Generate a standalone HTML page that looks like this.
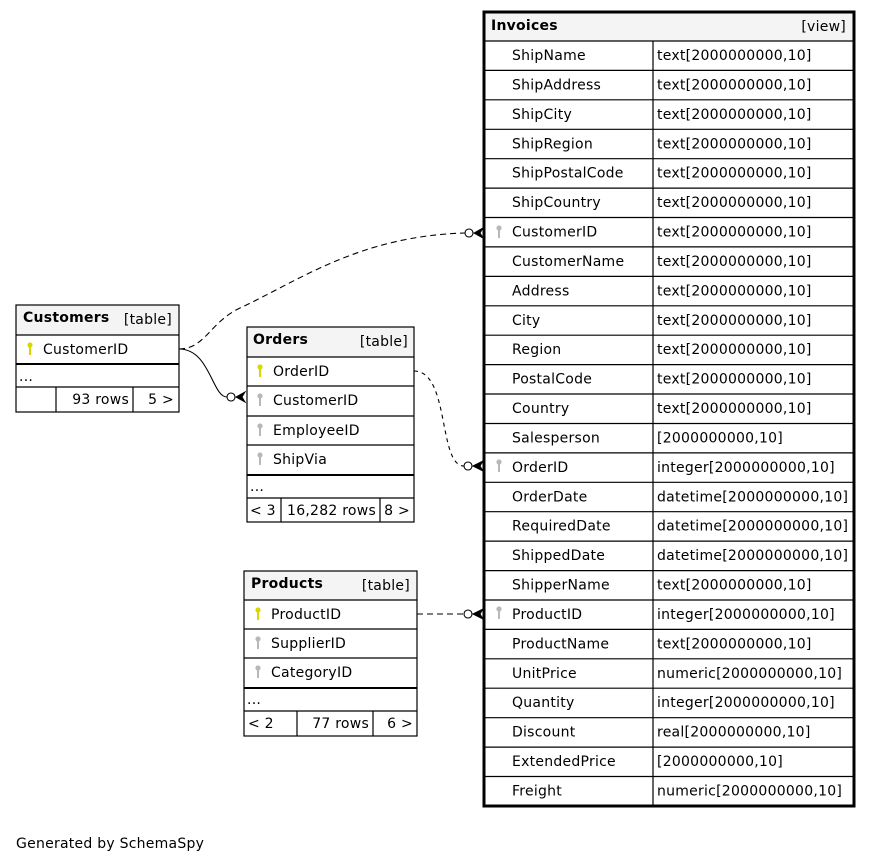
<!DOCTYPE html>
<html><head><meta charset="utf-8"><style>
html,body{margin:0;padding:0;background:#fff;}
svg{display:block;font-family:"DejaVu Sans","Liberation Sans",sans-serif;font-size:14px;letter-spacing:0.25px;}
</style></head><body>
<svg width="872" height="863" viewBox="0 0 872 863" xmlns="http://www.w3.org/2000/svg">
<defs>
<g id="pk"><circle cx="0" cy="0" r="2.6" fill="#d8d800"/><rect x="-1" y="0" width="2" height="10" fill="#d8d800"/></g>
<g id="fk"><circle cx="0" cy="0" r="2.6" fill="#b8b8b8"/><rect x="-1" y="0" width="2" height="10" fill="#b8b8b8"/></g>
</defs>
<rect width="872" height="863" fill="#fff"/>

<!-- connectors -->
<g fill="none" stroke="#000" stroke-width="1.1">
<path d="M179,349 C205,349 210,322 240,308 C300,280 360,236 465,233" stroke-dasharray="6,4"/>
<path d="M179,349 C210,349 212,397 227,397"/>
<path d="M414,371 C450,371 438,466 464,466" stroke-dasharray="4,4"/>
<path d="M417,614 L464,614" stroke-dasharray="6,4"/>
</g>
<g fill="#fff" stroke="#000" stroke-width="1.1">
<circle cx="469" cy="233" r="4"/><circle cx="231" cy="397" r="4"/><circle cx="468" cy="466" r="4"/><circle cx="468" cy="614" r="4"/>
</g>
<g fill="#000" stroke="#000" stroke-width="1">
<path d="M474,233 L483,228 L480,233 L483,238 Z"/>
<path d="M236,397 L245,392 L242,397 L245,402 Z"/>
<path d="M473,466 L483,461 L480,466 L483,471 Z"/>
<path d="M473,614 L483,609 L480,614 L483,619 Z"/>
</g>

<!-- Customers -->
<g>
<rect x="16" y="305" width="163" height="30" fill="#f4f4f4"/>
<rect x="16" y="305" width="163" height="107" fill="none" stroke="#000" stroke-width="1.2"/>
<g stroke="#000" stroke-width="1.2"><line x1="16" y1="335" x2="179" y2="335"/><line x1="16" y1="364" x2="179" y2="364" stroke-width="2"/><line x1="16" y1="387" x2="179" y2="387"/><line x1="56" y1="387" x2="56" y2="412"/><line x1="133" y1="387" x2="133" y2="412"/></g>
<text x="23" y="322" font-weight="bold">Customers</text><text x="172" y="324" text-anchor="end">[table]</text>
<use href="#pk" x="30" y="345"/><text x="43" y="354">CustomerID</text>
<text x="19" y="381">...</text>
<text x="129" y="404" text-anchor="end">93 rows</text><text x="174" y="404" text-anchor="end">5 &gt;</text>
</g>

<!-- Orders -->
<g>
<rect x="247" y="327" width="167" height="30" fill="#f4f4f4"/>
<rect x="247" y="327" width="167" height="195" fill="none" stroke="#000" stroke-width="1.2"/>
<g stroke="#000" stroke-width="1.2"><line x1="247" y1="357" x2="414" y2="357"/><line x1="247" y1="386" x2="414" y2="386"/><line x1="247" y1="416" x2="414" y2="416"/><line x1="247" y1="445" x2="414" y2="445"/><line x1="247" y1="475" x2="414" y2="475" stroke-width="2"/><line x1="247" y1="498" x2="414" y2="498"/><line x1="281" y1="498" x2="281" y2="522"/><line x1="380" y1="498" x2="380" y2="522"/></g>
<text x="253" y="344" font-weight="bold">Orders</text><text x="408" y="346" text-anchor="end">[table]</text>
<use href="#pk" x="260" y="367"/><text x="273" y="376">OrderID</text>
<use href="#fk" x="260" y="396"/><text x="273" y="405">CustomerID</text>
<use href="#fk" x="260" y="426"/><text x="273" y="435">EmployeeID</text>
<use href="#fk" x="260" y="455"/><text x="273" y="464">ShipVia</text>
<text x="250" y="491">...</text>
<text x="250" y="515">&lt; 3</text><text x="376" y="515" text-anchor="end">16,282 rows</text><text x="410" y="515" text-anchor="end">8 &gt;</text>
</g>

<!-- Products -->
<g>
<rect x="244" y="571" width="173" height="29" fill="#f4f4f4"/>
<rect x="244" y="571" width="173" height="165" fill="none" stroke="#000" stroke-width="1.2"/>
<g stroke="#000" stroke-width="1.2"><line x1="244" y1="600" x2="417" y2="600"/><line x1="244" y1="629" x2="417" y2="629"/><line x1="244" y1="658" x2="417" y2="658"/><line x1="244" y1="688" x2="417" y2="688" stroke-width="2"/><line x1="244" y1="711" x2="417" y2="711"/><line x1="297" y1="711" x2="297" y2="736"/><line x1="373" y1="711" x2="373" y2="736"/></g>
<text x="251" y="588" font-weight="bold">Products</text><text x="410" y="590" text-anchor="end">[table]</text>
<use href="#pk" x="258" y="610"/><text x="271" y="619">ProductID</text>
<use href="#fk" x="258" y="639"/><text x="271" y="648">SupplierID</text>
<use href="#fk" x="258" y="668"/><text x="271" y="677">CategoryID</text>
<text x="247" y="704">...</text>
<text x="248" y="728">&lt; 2</text><text x="369" y="728" text-anchor="end">77 rows</text><text x="413" y="728" text-anchor="end">6 &gt;</text>
</g>

<!-- Invoices -->
<g>
<rect x="484" y="12" width="370" height="29" fill="#f4f4f4"/>
<g stroke="#000" stroke-width="1.2">
<line x1="484" y1="41" x2="854" y2="41"/><line x1="484" y1="70.4" x2="854" y2="70.4"/><line x1="484" y1="99.8" x2="854" y2="99.8"/><line x1="484" y1="129.3" x2="854" y2="129.3"/><line x1="484" y1="158.7" x2="854" y2="158.7"/><line x1="484" y1="188.1" x2="854" y2="188.1"/><line x1="484" y1="217.5" x2="854" y2="217.5"/><line x1="484" y1="246.9" x2="854" y2="246.9"/><line x1="484" y1="276.4" x2="854" y2="276.4"/><line x1="484" y1="305.8" x2="854" y2="305.8"/><line x1="484" y1="335.2" x2="854" y2="335.2"/><line x1="484" y1="364.6" x2="854" y2="364.6"/><line x1="484" y1="394" x2="854" y2="394"/><line x1="484" y1="423.5" x2="854" y2="423.5"/><line x1="484" y1="452.9" x2="854" y2="452.9"/><line x1="484" y1="482.3" x2="854" y2="482.3"/><line x1="484" y1="511.7" x2="854" y2="511.7"/><line x1="484" y1="541.1" x2="854" y2="541.1"/><line x1="484" y1="570.6" x2="854" y2="570.6"/><line x1="484" y1="600" x2="854" y2="600"/><line x1="484" y1="629.4" x2="854" y2="629.4"/><line x1="484" y1="658.8" x2="854" y2="658.8"/><line x1="484" y1="688.2" x2="854" y2="688.2"/><line x1="484" y1="717.7" x2="854" y2="717.7"/><line x1="484" y1="747.1" x2="854" y2="747.1"/><line x1="484" y1="776.5" x2="854" y2="776.5"/>
<line x1="653" y1="41" x2="653" y2="806"/>
</g>
<rect x="484" y="12" width="370" height="794" fill="none" stroke="#000" stroke-width="3"/>
<text x="491" y="30" font-weight="bold">Invoices</text><text x="846" y="31" text-anchor="end">[view]</text>
<g>
<text x="512" y="60">ShipName</text><text x="657" y="60">text[2000000000,10]</text>
<text x="512" y="89.4">ShipAddress</text><text x="657" y="89.4">text[2000000000,10]</text>
<text x="512" y="118.8">ShipCity</text><text x="657" y="118.8">text[2000000000,10]</text>
<text x="512" y="148.3">ShipRegion</text><text x="657" y="148.3">text[2000000000,10]</text>
<text x="512" y="177.7">ShipPostalCode</text><text x="657" y="177.7">text[2000000000,10]</text>
<text x="512" y="207.1">ShipCountry</text><text x="657" y="207.1">text[2000000000,10]</text>
<use href="#fk" x="499" y="228"/><text x="512" y="236.5">CustomerID</text><text x="657" y="236.5">text[2000000000,10]</text>
<text x="512" y="265.9">CustomerName</text><text x="657" y="265.9">text[2000000000,10]</text>
<text x="512" y="295.4">Address</text><text x="657" y="295.4">text[2000000000,10]</text>
<text x="512" y="324.8">City</text><text x="657" y="324.8">text[2000000000,10]</text>
<text x="512" y="354.2">Region</text><text x="657" y="354.2">text[2000000000,10]</text>
<text x="512" y="383.6">PostalCode</text><text x="657" y="383.6">text[2000000000,10]</text>
<text x="512" y="413">Country</text><text x="657" y="413">text[2000000000,10]</text>
<text x="512" y="442.5">Salesperson</text><text x="657" y="442.5">[2000000000,10]</text>
<use href="#fk" x="499" y="462"/><text x="512" y="471.9">OrderID</text><text x="657" y="471.9">integer[2000000000,10]</text>
<text x="512" y="501.3">OrderDate</text><text x="657" y="501.3">datetime[2000000000,10]</text>
<text x="512" y="530.7">RequiredDate</text><text x="657" y="530.7">datetime[2000000000,10]</text>
<text x="512" y="560.1">ShippedDate</text><text x="657" y="560.1">datetime[2000000000,10]</text>
<text x="512" y="589.6">ShipperName</text><text x="657" y="589.6">text[2000000000,10]</text>
<use href="#fk" x="499" y="609"/><text x="512" y="619">ProductID</text><text x="657" y="619">integer[2000000000,10]</text>
<text x="512" y="648.4">ProductName</text><text x="657" y="648.4">text[2000000000,10]</text>
<text x="512" y="677.8">UnitPrice</text><text x="657" y="677.8">numeric[2000000000,10]</text>
<text x="512" y="707.2">Quantity</text><text x="657" y="707.2">integer[2000000000,10]</text>
<text x="512" y="736.7">Discount</text><text x="657" y="736.7">real[2000000000,10]</text>
<text x="512" y="766.1">ExtendedPrice</text><text x="657" y="766.1">[2000000000,10]</text>
<text x="512" y="795.5">Freight</text><text x="657" y="795.5">numeric[2000000000,10]</text>
</g>
</g>

<text x="16" y="848">Generated by SchemaSpy</text>
</svg>
</body></html>
